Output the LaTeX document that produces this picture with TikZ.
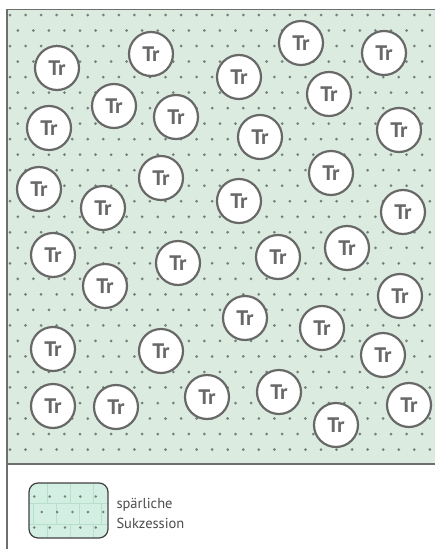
\documentclass[tikz,border=0pt]{standalone}
\usepackage{fontspec}
\setmainfont{PT Sans}

\definecolor{meadow}{HTML}{DCEBE0}
\definecolor{legendmint}{HTML}{D3EEE2}
\definecolor{brickline}{HTML}{B8DFCC}
\definecolor{dotgray}{HTML}{74807A}
\definecolor{framegray}{HTML}{6E6E6E}
\definecolor{treegray}{HTML}{686868}

\begin{document}
\begin{tikzpicture}[x=1pt, y=-1pt,
    tree/.style={circle, draw=treegray, line width=2.2pt, fill=white,
        minimum size=44pt, inner sep=0pt, text=treegray,
        font=\fontsize{21}{21}\selectfont\bfseries},
    frame/.style={draw=framegray, line width=1.7pt},
    legendbox/.style={rectangle, rounded corners=9pt, draw=black!75,
        line width=1.2pt, minimum width=79pt, minimum height=55pt},
    legendtext/.style={align=left, text=black!70,
        font=\fontsize{14.5}{20}\selectfont}]
    \useasboundingbox (0,0) rectangle (435,549);

    % Meadow area
    \fill[meadow] (7,9.5) rectangle (435,464);

    % Staggered dot grid
    \foreach \r in {0,...,28} {
        \pgfmathsetmacro{\yy}{15+15.52*\r}
        \pgfmathsetmacro{\xoff}{mod(\r,2)==0 ? 10 : 17.8}
        \pgfmathtruncatemacro{\nmax}{mod(\r,2)==0 ? 27 : 26}
        \foreach \i in {0,...,\nmax}
            \fill[dotgray] (\xoff+15.55*\i,\yy) circle (1.5pt);
    }

    % Frame
    \draw[frame] (435,9.5) -- (7,9.5) -- (7,549);
    \draw[frame] (7,464) -- (435,464);

    % Trees
    \foreach \x/\y [count=\i] in {57/68, 151/54, 114/106, 176/117, 49/128,
        301/43, 384/53, 239/77, 329/94, 260/137, 399/130,
        39/189, 161/178, 103/208, 331/173, 239/201, 403/212,
        53/255, 178/263, 105/286, 278/257, 347/248, 400/296,
        245/318, 322/328, 53/349, 161/351, 383/355,
        53/406, 116/407, 207/397, 279/392, 336/425, 409/405} {
        \node[tree] (t\i) at (\x,\y) {Tr};
    }

    % Legend symbol
    \begin{scope}
        \clip[rounded corners=9pt] (29,483) rectangle (108,538);
        \fill[legendmint] (29,483) rectangle (108,538);
        \draw[brickline, line width=0.5pt] (29,503) -- (108,503) (29,524) -- (108,524);
        \foreach \x in {47.7, 70.5, 93.3} {
            \draw[brickline, line width=0.5pt] (\x,483) -- (\x,503) (\x,524) -- (\x,538);
        }
        \foreach \x in {33.2, 56, 78.8, 101.6} {
            \draw[brickline, line width=0.5pt] (\x,503) -- (\x,524);
        }
        \foreach \i in {0,...,4} {
            \fill[dotgray] (34.3+15.35*\i,496.5) circle (1.4pt);
            \fill[dotgray] (41.7+15.4*\i,512) circle (1.4pt);
            \fill[dotgray] (34.3+15.35*\i,527.5) circle (1.4pt);
        }
    \end{scope}
    \node[legendbox] (legbox) at (68.5,510.5) {};
    \node[legendtext, anchor=west] (leglabel) at (113,513) {spärliche\\Sukzession};
\end{tikzpicture}
\end{document}
